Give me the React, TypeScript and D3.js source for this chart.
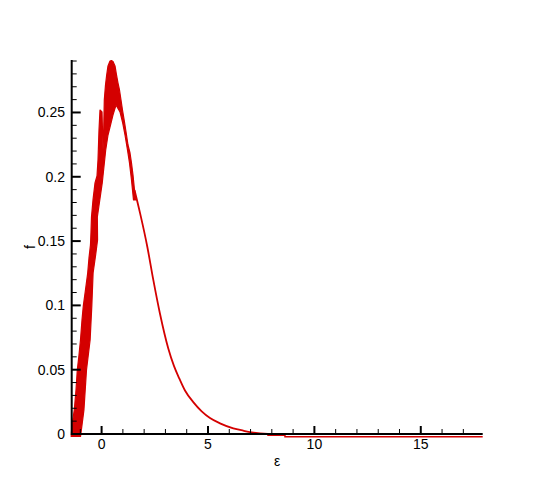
import React from "react";
import * as d3 from "d3";

// Noisy rising band + peak (outline of the thick red region), as (ε, f)
const bandEps = [
  -1.43, -1.391, -1.283, -1.203, -1.142, -1.062, -0.992, -0.921, -0.86, -0.757, -0.653, -0.592, -0.522, -0.498, -0.475,
  -0.404, -0.31, -0.216, -0.169, -0.122, -0.075, 0.019, 0.066, 0.089, 0.127, 0.183, 0.24, 0.301, 0.395, 0.465, 0.536,
  0.63, 0.7, 0.771, 0.841, 0.912, 0.982, 1.076, 1.17, 1.241, 1.335, 1.405, 1.476, 1.546, 1.617,
  1.499, 1.405, 1.311, 1.217, 1.1, 0.982, 0.865, 0.677,
  0.536, 0.395, 0.301, 0.193, 0.03, -0.2, -0.19, -0.28, -0.4, -0.46, -0.54, -0.71, -0.83, -0.99,
];
const bandF = [
  -0.0019, 0.007, 0.0187, 0.0342, 0.0498, 0.0614, 0.0731, 0.0886, 0.0995, 0.112, 0.1252, 0.1369, 0.147, 0.1571, 0.1687,
  0.182, 0.1952, 0.2006, 0.2131, 0.2364, 0.2519, 0.2504, 0.2208, 0.2286, 0.2597, 0.2714, 0.2792, 0.2862, 0.29, 0.2904, 0.2897,
  0.2862, 0.2792, 0.2729, 0.2675, 0.2597, 0.2519, 0.2426, 0.2325, 0.2247, 0.2185, 0.2107, 0.2014, 0.1897, 0.182,
  0.182, 0.1975, 0.2107, 0.2208, 0.2325, 0.2426, 0.2504, 0.2558,
  0.2481, 0.2387, 0.2325, 0.2208, 0.1952, 0.1687, 0.1509, 0.1392, 0.1252, 0.0995, 0.0731, 0.0498, 0.0187, -0.0019,
];

// Smooth tail of the distribution
const tailEps = [
  1.546, 1.805, 2.148, 2.43, 2.744, 3.134, 3.4, 3.651, 3.919, 4.309, 4.704, 5.094, 5.564, 6.189, 6.659, 7.054, 7.82,
];
const tailF = [
  0.1897, 0.1719, 0.1456, 0.1198, 0.0935, 0.0665, 0.053, 0.0432, 0.0338, 0.0248, 0.0176, 0.0124, 0.0083, 0.0044, 0.0026,
  0.0013, 0,
];
// Flat far tail (slightly below zero)
const flatEps = [7.82, 7.82, 8.618, 8.618, 17.91];
const flatF = [0, -0.001, -0.001, -0.0022, -0.0022];

const xMajor = [0, 5, 10, 15];
const xMinor = [-1, 1, 2, 3, 4, 6, 7, 8, 9, 11, 12, 13, 14, 16, 17];
const yMajor = [0, 0.05, 0.1, 0.15, 0.2, 0.25];
const yMajorLabels = ["0", "0.05", "0.1", "0.15", "0.2", "0.25"];
const yMinor = [0.01, 0.02, 0.03, 0.04, 0.06, 0.07, 0.08, 0.09, 0.11, 0.12, 0.13, 0.14, 0.16, 0.17, 0.18, 0.19, 0.21, 0.22, 0.23, 0.24, 0.26, 0.27, 0.28, 0.29];

const RED = "#d40000";
const FONT = "'Liberation Sans', Arial, Helvetica, sans-serif";

export default function App() {
  const x = d3.scaleLinear().domain([-1.405, 17.91]).range([71.7, 482.7]);
  const y = d3.scaleLinear().domain([0, 0.2908]).range([434, 60]);

  const bandPts: [number, number][] = bandEps.map((e, i) => [e, bandF[i]]);
  const tailPts: [number, number][] = tailEps.map((e, i) => [e, tailF[i]]);
  const flatPts: [number, number][] = flatEps.map((e, i) => [e, flatF[i]]);
  const line = d3
    .line<[number, number]>()
    .x((d) => x(d[0]))
    .y((d) => y(d[1]));
  const smooth = d3
    .line<[number, number]>()
    .x((d) => x(d[0]))
    .y((d) => y(d[1]))
    .curve(d3.curveMonotoneX);

  const x0 = x.range()[0];
  const y0 = y.range()[0];

  return (
    <svg
      width={550}
      height={489}
      style={{ position: "absolute", left: 0, top: 0, background: "#fff" }}
    >
      <rect width={550} height={489} fill="#fff" />
      {/* data */}
      <path d={(line(bandPts) || "") + "Z"} fill={RED} stroke={RED} strokeWidth={1.2} strokeLinejoin="round" />
      <path d={smooth(tailPts) || ""} fill="none" stroke={RED} strokeWidth={1.8} />
      <path d={line(flatPts) || ""} fill="none" stroke={RED} strokeWidth={1.5} />

      {/* axes */}
      <line x1={x0} x2={x.range()[1]} y1={y0} y2={y0} stroke="#000" strokeWidth={2} />
      <line x1={x0} x2={x0} y1={y0 + 1} y2={y.range()[1]} stroke="#000" strokeWidth={2} />

      {xMajor.map((v) => (
        <g key={"xM" + v}>
          <line x1={x(v)} x2={x(v)} y1={y0} y2={y0 - 8} stroke="#000" strokeWidth={2} />
          <text x={x(v)} y={y0 + 15} textAnchor="middle" fontFamily={FONT} fontSize={14} fill="#000">
            {v}
          </text>
        </g>
      ))}
      {xMinor.map((v) => (
        <line key={"xm" + v} x1={x(v)} x2={x(v)} y1={y0} y2={y0 - 5} stroke="#000" strokeWidth={1} />
      ))}

      {yMajor.map((v, i) => (
        <g key={"yM" + v}>
          <line x1={x0} x2={x0 + 9} y1={y(v)} y2={y(v)} stroke="#000" strokeWidth={2} />
          <text x={65} y={y(v) + 5} textAnchor="end" fontFamily={FONT} fontSize={14} fill="#000">
            {yMajorLabels[i]}
          </text>
        </g>
      ))}
      {yMinor.map((v) => (
        <line key={"ym" + v} x1={x0} x2={x0 + 5} y1={y(v)} y2={y(v)} stroke="#000" strokeWidth={1} />
      ))}

      {/* axis titles */}
      <text x={277} y={466} textAnchor="middle" fontFamily={FONT} fontSize={14} fill="#000">
        ε
      </text>
      <text
        transform="translate(35,247) rotate(-90)"
        textAnchor="middle"
        fontFamily={FONT}
        fontSize={14}
        fill="#000"
      >
        f
      </text>
    </svg>
  );
}
